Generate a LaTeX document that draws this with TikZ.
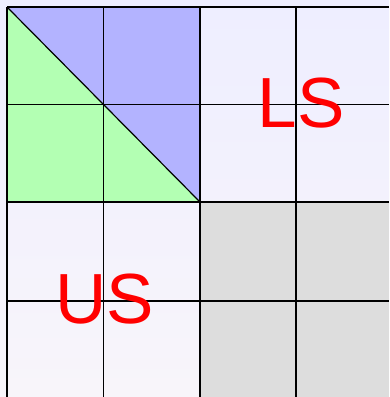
\documentclass[tikz,border=0pt]{standalone}
\usepackage{fontspec}
\setmainfont{Liberation Sans}
\definecolor{upperblue}{HTML}{B3B3FF}
\definecolor{lowergreen}{HTML}{B3FFB3}
\definecolor{blockgray}{HTML}{DDDDDD}
\definecolor{bgtop}{HTML}{EEEEFF}
\definecolor{bgbottom}{HTML}{F8F5FA}
\definecolor{labelred}{HTML}{FF0000}

\begin{document}
\begin{tikzpicture}[
    x=1pt, y=-1pt,
    gridline/.style={draw=black, line width=1.2pt},
    blocklabel/.style={text=labelred, font=\fontsize{71}{78}\selectfont, inner sep=0pt, anchor=center}
  ]
    % background and frame
    \shade[top color=bgtop, bottom color=bgbottom] (0,0) rectangle (389,397);
    \useasboundingbox (0,0) rectangle (389,397);

    % coloured blocks
    \fill[upperblue] (7,7) -- (200,7) -- (200,202) -- cycle;
    \fill[lowergreen] (7,7) -- (7,202) -- (200,202) -- cycle;
    \fill[blockgray] (200,202) rectangle (389,397);

    % grid
    \foreach \gx in {7,103.5,200,296}
      \draw[gridline] (\gx,7) -- (\gx,397);
    \foreach \gy in {7,104.5,202,301}
      \draw[gridline] (7,\gy) -- (389,\gy);
    \draw[gridline] (7,7) -- (200,202);

    % labels
    \node[blocklabel] (ls) at (301,103.5) {LS};
    \node[blocklabel] (us) at (104.5,299.5) {US};
  \end{tikzpicture}
\end{document}
